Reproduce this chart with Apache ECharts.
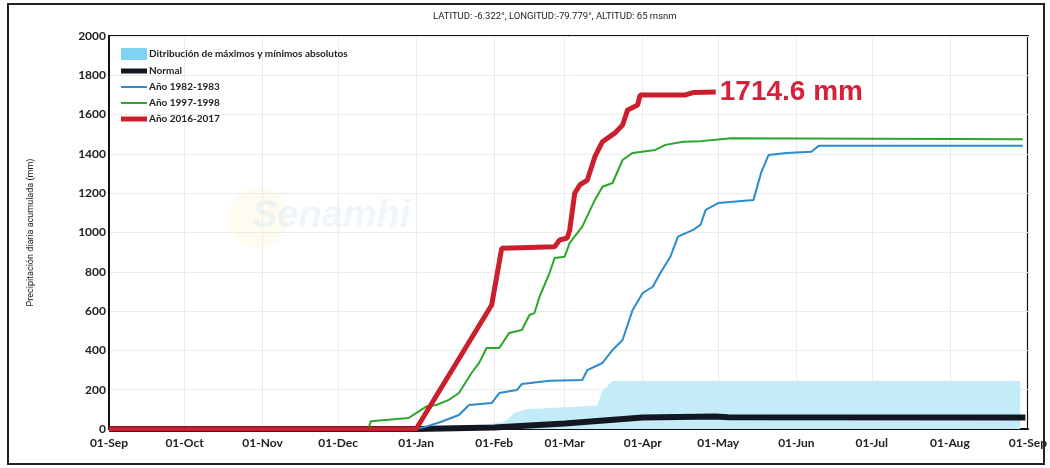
<!DOCTYPE html>
<html>
<head>
<meta charset="utf-8">
<script src="https://cdn.jsdelivr.net/npm/echarts@6/dist/echarts.min.js"></script>
<style>
  html, body { margin: 0; padding: 0; background: #fff; }
  #chart { width: 1050px; height: 468px; }
</style>
</head>
<body>
<div id="chart"></div>
<script>
// precipitacion diaria acumulada (mm)
const bandaMaxMin = [
  ['2016-09-01', 0], ['2017-01-01', 0], ['2017-01-25', 15], ['2017-02-05', 37],
  ['2017-02-09', 81], ['2017-02-14', 100], ['2017-03-14', 120], ['2017-03-16', 195],
  ['2017-03-20', 244], ['2017-08-29', 244]
];
const normal = [
  ['2016-09-01', 0], ['2017-01-01', 0], ['2017-02-01', 8], ['2017-03-01', 28],
  ['2017-04-01', 58], ['2017-04-30', 63], ['2017-05-05', 60], ['2017-08-31', 58]
];
const anio1982 = [
  ['2016-09-01', 0], ['2017-01-01', 0], ['2017-01-05', 12], ['2017-01-11', 37],
  ['2017-01-18', 71], ['2017-01-22', 122], ['2017-01-31', 132], ['2017-02-03', 183],
  ['2017-02-10', 198], ['2017-02-12', 229], ['2017-02-23', 246], ['2017-03-08', 249],
  ['2017-03-10', 300], ['2017-03-16', 336], ['2017-03-20', 402], ['2017-03-24', 453],
  ['2017-03-28', 606], ['2017-04-01', 692], ['2017-04-05', 724], ['2017-04-08', 794],
  ['2017-04-12', 877], ['2017-04-15', 979], ['2017-04-21', 1013], ['2017-04-24', 1040],
  ['2017-04-26', 1115], ['2017-05-01', 1150], ['2017-05-15', 1166], ['2017-05-18', 1303],
  ['2017-05-21', 1395], ['2017-05-28', 1405], ['2017-06-07', 1411], ['2017-06-10', 1442],
  ['2017-08-30', 1442]
];
const anio1997 = [
  ['2016-09-01', 0], ['2016-12-13', 0], ['2016-12-14', 40], ['2016-12-29', 56],
  ['2017-01-01', 81], ['2017-01-05', 114], ['2017-01-09', 122], ['2017-01-14', 148],
  ['2017-01-18', 183], ['2017-01-23', 285], ['2017-01-26', 336], ['2017-01-29', 412],
  ['2017-02-03', 412], ['2017-02-07', 489], ['2017-02-12', 504], ['2017-02-15', 580],
  ['2017-02-17', 590], ['2017-02-19', 673], ['2017-02-23', 794], ['2017-02-25', 870],
  ['2017-03-01', 877], ['2017-03-03', 947], ['2017-03-08', 1030], ['2017-03-13', 1166],
  ['2017-03-16', 1233], ['2017-03-20', 1252], ['2017-03-24', 1369], ['2017-03-28', 1405],
  ['2017-04-06', 1420], ['2017-04-10', 1446], ['2017-04-17', 1462], ['2017-04-24', 1465],
  ['2017-05-02', 1475], ['2017-05-06', 1480], ['2017-08-30', 1475]
];
const anio2016 = [
  ['2016-09-01', 0], ['2017-01-01', 0], ['2017-01-31', 631], ['2017-02-04', 920],
  ['2017-02-25', 928], ['2017-02-27', 962], ['2017-03-02', 972], ['2017-03-03', 1013],
  ['2017-03-05', 1200], ['2017-03-07', 1242], ['2017-03-10', 1267], ['2017-03-13', 1386],
  ['2017-03-16', 1462], ['2017-03-21', 1507], ['2017-03-24', 1547], ['2017-03-26', 1624],
  ['2017-03-30', 1649], ['2017-03-31', 1700], ['2017-04-18', 1700], ['2017-04-21', 1712],
  ['2017-04-30', 1714.6]
];
const totalLabel = '1714.6 mm';
const yTicks = { min: 0, max: 2000, interval: 200 };

const chart = echarts.init(document.getElementById('chart'));

const labelFont = { fontFamily: 'Lato', fontWeight: 'bold', fontSize: 12, color: '#222' };
// iconos de leyenda: barra gruesa o fina
const thickIcon = 'path://M0,0H26V5H0Z';
const thinIcon = 'path://M0,0H26V2H0Z';

const option = {
  animation: false,
  backgroundColor: '#fff',
  graphic: [
    {
      type: 'rect', z: 100, silent: true,
      shape: { x: 8, y: 4, width: 1036, height: 460 },
      style: { fill: 'none', stroke: '#222', lineWidth: 2 }
    },
    {
      type: 'text', z: 100, left: 433, top: 12,
      style: {
        text: 'LATITUD: -6.322°, LONGITUD:-79.779°, ALTITUD: 65 msnm',
        fontFamily: 'Roboto', fontSize: 9.5, fill: '#222'
      }
    },
    {
      type: 'circle', z: 0, silent: true,
      shape: { cx: 258, cy: 218, r: 30 },
      style: { fill: 'rgba(250,225,120,0.10)' }
    },
    {
      type: 'text', z: 0, left: 252, top: 198, silent: true,
      style: {
        text: 'Senamhi', fontFamily: 'Liberation Sans', fontStyle: 'italic',
        fontWeight: 'bold', fontSize: 38, fill: 'rgba(150,200,235,0.16)'
      }
    }
  ],
  grid: {
    left: 109, right: 21, top: 36, bottom: 39,
    show: true, borderColor: '#111', borderWidth: 2, backgroundColor: 'transparent'
  },
  legend: {
    orient: 'vertical', left: 116, top: 43,
    itemWidth: 26, itemHeight: 12, itemGap: 6,
    textStyle: { fontFamily: 'Lato', fontWeight: 'bold', fontSize: 10, color: '#222', padding: [0, 0, 0, -3] },
    data: [
      { name: 'Ditribución de máximos y mínimos absolutos', icon: 'rect' },
      { name: 'Normal', icon: thickIcon },
      { name: 'Año 1982-1983', icon: thinIcon },
      { name: 'Año 1997-1998', icon: thinIcon },
      { name: 'Año 2016-2017', icon: thickIcon }
    ]
  },
  xAxis: {
    type: 'time',
    min: '2016-09-01', max: '2017-09-01',
    splitNumber: 12,
    axisLine: { lineStyle: { color: '#111', width: 2 } },
    axisTick: { show: false },
    axisLabel: Object.assign({ formatter: '{dd}-{MMM}', margin: 8, showMinLabel: true, showMaxLabel: true }, labelFont),
    splitLine: { show: true, lineStyle: { color: '#ebebeb', width: 1 } }
  },
  yAxis: {
    type: 'value',
    min: yTicks.min, max: yTicks.max, interval: yTicks.interval,
    name: 'Precipitación diaria acumulada (mm)',
    nameLocation: 'middle', nameGap: 74,
    nameTextStyle: { fontFamily: 'Roboto', fontSize: 9, color: '#222' },
    axisLine: { show: true, lineStyle: { color: '#111', width: 2 } },
    axisTick: { show: false },
    axisLabel: Object.assign({ margin: 3, formatter: v => String(v) }, labelFont),
    splitLine: { lineStyle: { color: '#ebebeb', width: 1 } }
  },
  series: [
    {
      name: 'Ditribución de máximos y mínimos absolutos',
      type: 'line', data: bandaMaxMin, symbol: 'none', z: 1,
      itemStyle: { color: '#7fd2f0' },
      lineStyle: { width: 0 },
      areaStyle: { color: '#c3ebf8', opacity: 1 }
    },
    {
      name: 'Normal', type: 'line', data: normal, symbol: 'none', z: 2,
      itemStyle: { color: '#121722' },
      lineStyle: { color: '#121722', width: 6 }
    },
    {
      name: 'Año 1982-1983', type: 'line', data: anio1982, symbol: 'none', z: 3,
      itemStyle: { color: '#2a8ccb' },
      lineStyle: { color: '#2a8ccb', width: 2 }
    },
    {
      name: 'Año 1997-1998', type: 'line', data: anio1997, symbol: 'none', z: 4,
      itemStyle: { color: '#2aa72a' },
      lineStyle: { color: '#2aa72a', width: 2 }
    },
    {
      name: 'Año 2016-2017', type: 'line', data: anio2016, symbol: 'none', z: 5,
      itemStyle: { color: '#cc1f2e' },
      lineStyle: { color: '#cc1f2e', width: 5 },
      endLabel: {
        show: true, formatter: totalLabel, distance: 4,
        fontFamily: 'Liberation Sans', fontWeight: 'bold', fontSize: 28, color: '#d6213a'
      }
    }
  ]
};

chart.setOption(option);
</script>
</body>
</html>
